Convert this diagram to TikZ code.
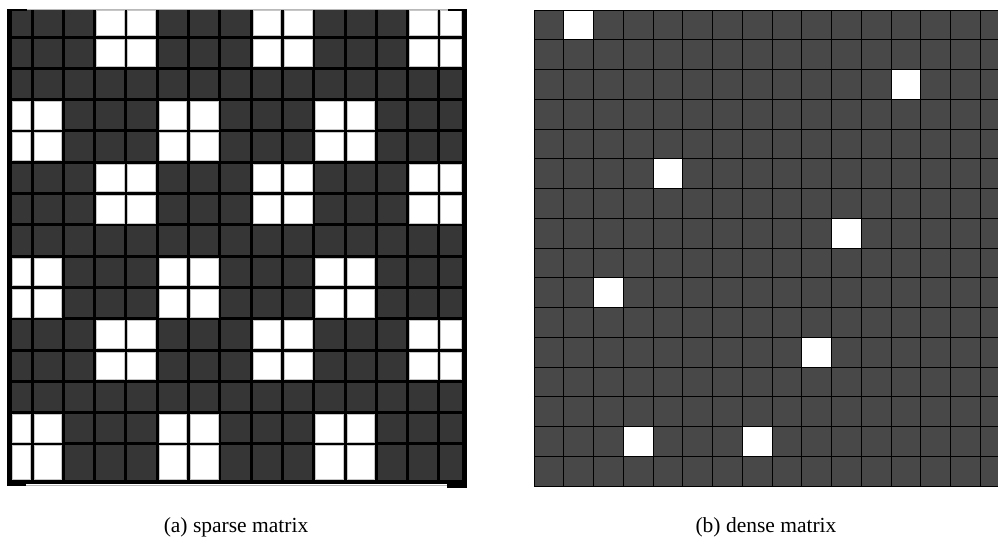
\documentclass[tikz,border=0pt]{standalone}
\usepackage{fontspec}
\setmainfont{Liberation Serif}
\definecolor{sparsedark}{HTML}{363636}
\definecolor{densedark}{HTML}{484848}
\newcommand\sparsewhite[2]{%
  \pgfmathsetmacro\xl{ifthenelse(#2==1,12,32+(#2-2)*31.3+1.5)}%
  \pgfmathsetmacro\xr{ifthenelse(#2==15,462,32+(#2-1)*31.3-1.5)}%
  \pgfmathsetmacro\yt{ifthenelse(#1==1,10,37+(#1-2)*31.3+1.5)}%
  \pgfmathsetmacro\yb{ifthenelse(#1==15,480,37+(#1-1)*31.3-1.5)}%
  \fill[white] (\xl,\yt) rectangle (\xr,\yb);%
  \draw[gray!45,line width=0.6pt] (\xl+0.3,\yt+0.3) rectangle (\xr-0.3,\yb-0.3);%
}
\begin{document}
\begin{tikzpicture}[x=1pt,y=-1pt,
  thickgrid/.style={black,line width=3pt},
  thingrid/.style={black,line width=1pt},
  caption/.style={inner sep=0pt,font=\fontsize{21.5}{26}\selectfont}]
\useasboundingbox (0,0) rectangle (998,539);
\begin{scope}
\clip (0,0) rectangle (998,539);
% ---------- sparse matrix ----------
\fill[sparsedark] (9.5,10) rectangle (464,482);
\foreach \k in {0,...,13} {
  \draw[thickgrid] ({32+\k*31.3},10) -- ({32+\k*31.3},482);
  \draw[thickgrid] (9.5,{37+\k*31.3}) -- (464,{37+\k*31.3});
}
\foreach \r in {1,2,6,7,11,12} {\foreach \c in {4,5,9,10,14,15} {\sparsewhite{\r}{\c}}}
\foreach \r in {4,5,9,10,14,15} {\foreach \c in {1,2,6,7,11,12} {\sparsewhite{\r}{\c}}}
% borders
\draw[gray!55,line width=0.7pt] (7,9.3) -- (466,9.3);
\draw[gray!55,line width=0.7pt] (7,485.5) -- (466,485.5);
\fill[black] (7,8.5) rectangle (27,11);
\fill[black] (7,8.5) rectangle (12,484);
\fill[black] (448,8.5) rectangle (466.5,10.5);
\fill[black] (462,8.5) rectangle (466.5,486);
\fill[black] (7,480) rectangle (466.5,484);
\fill[black] (7,484) rectangle (26,486);
\fill[black] (447,484) rectangle (466.5,487.5);
% ---------- dense matrix ----------
\fill[densedark] (534,10) rectangle (1010,486);
\foreach \r/\c in {1/2,3/13,6/5,8/11,10/3,12/10,15/4,15/8}
  \fill[white] ({534+(\c-1)*29.75},{10+(\r-1)*29.75}) rectangle ++(29.75,29.75);
\foreach \k in {0,...,16} {
  \draw[thingrid] ({534+\k*29.75},10) -- ({534+\k*29.75},486);
  \draw[thingrid] (534,{10+\k*29.75}) -- (1010,{10+\k*29.75});
}
\end{scope}
% ---------- captions ----------
\node[caption] (capa) at (236,527) {(a) sparse matrix};
\node[caption] (capb) at (766,527) {(b) dense matrix};
\end{tikzpicture}
\end{document}
